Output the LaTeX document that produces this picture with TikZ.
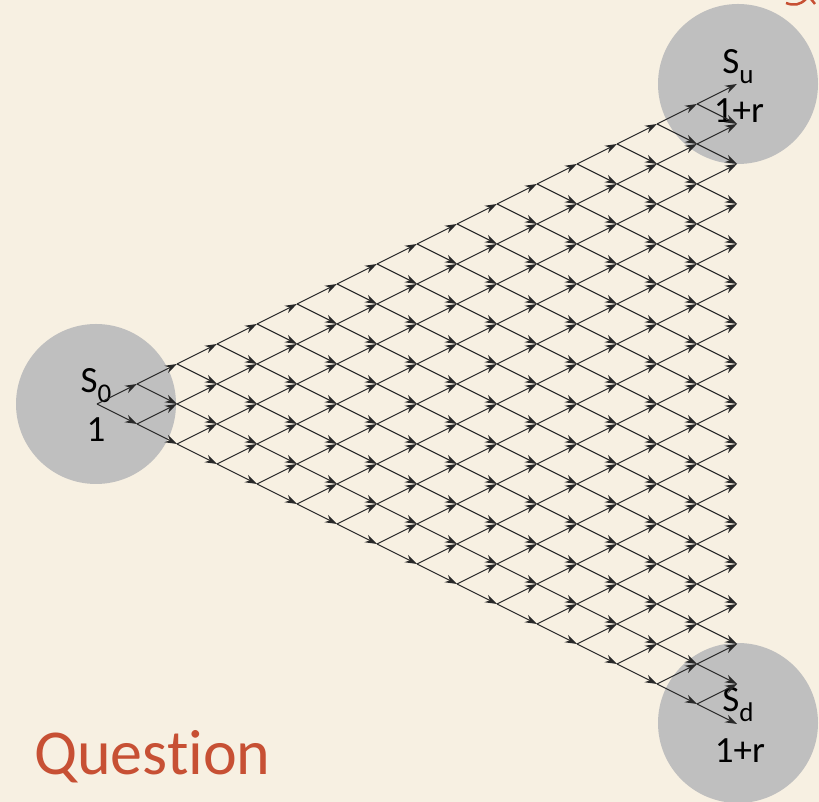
\documentclass[tikz,border=0pt]{standalone}
\usepackage{fontspec}
\setmainfont[Ligatures=NoCommon]{Carlito}
\usetikzlibrary{arrows.meta}
\definecolor{qbg}{RGB}{247,240,226}
\definecolor{qgray}{RGB}{191,191,191}
\definecolor{qline}{RGB}{40,40,40}
\definecolor{qred}{RGB}{199,80,52}
\newcommand{\lsub}[1]{\raisebox{-10pt}{\fontsize{27}{27}\selectfont #1}}

\begin{document}
\begin{tikzpicture}[x=1pt,y=1pt,
  edge/.style={draw=qline, line width=1.1pt, -{Stealth[length=12pt,width=8pt,inset=4pt]}},
  lbl/.style={anchor=base, inner sep=0pt, font=\fontsize{37}{37}\selectfont}]

\def\N{16}
\def\dx{40}
\def\dy{20}
\def\R{80}
\def\xo{97}
\def\yo{398}

%background
\fill[qbg] (0,0) rectangle (819,802);
\useasboundingbox (0,0) rectangle (819,802);

%states
\fill[qgray] (96,398) circle (\R);
\fill[qgray] (738,718) circle (\R);
\fill[qgray] (738,79) circle (\R);

\node[lbl] (s0) at (96,409) {S\lsub{0}};
\node[lbl] (s0v) at (96,360) {1};
\node[lbl] (su) at (738,728) {S\lsub{u}};
\node[lbl] (suv) at (739,679) {1+r};
\node[lbl] (sd) at (738,90) {S\lsub{d}};
\node[lbl] (sdv) at (740,39) {1+r};

%lattice points
\foreach \i in {0,...,\N}{
  \foreach \j in {0,...,\i}{
    \coordinate (n-\i-\j) at ({\xo+\i*\dx},{\yo+(2*\j-\i)*\dy});
  }
}
%up and down moves
\pgfmathtruncatemacro\Nm{\N-1}
\foreach \i in {0,...,\Nm}{
  \pgfmathtruncatemacro\ii{\i+1}
  \foreach \j in {0,...,\i}{
    \pgfmathtruncatemacro\jj{\j+1}
    \draw[edge] (n-\i-\j) -- (n-\ii-\j);
    \draw[edge] (n-\i-\j) -- (n-\ii-\jj);
  }
}

%title
\node[anchor=base west, inner sep=0pt, text=qred, font=\fontsize{64}{64}\selectfont] (q) at (34,27) {Question};
\draw[qred, line width=2.5pt] (786,799) .. controls (794,796) and (800,797) .. (806,803);
\draw[qred, line width=2.5pt] (811,803) -- (815,798);

\end{tikzpicture}
\end{document}
